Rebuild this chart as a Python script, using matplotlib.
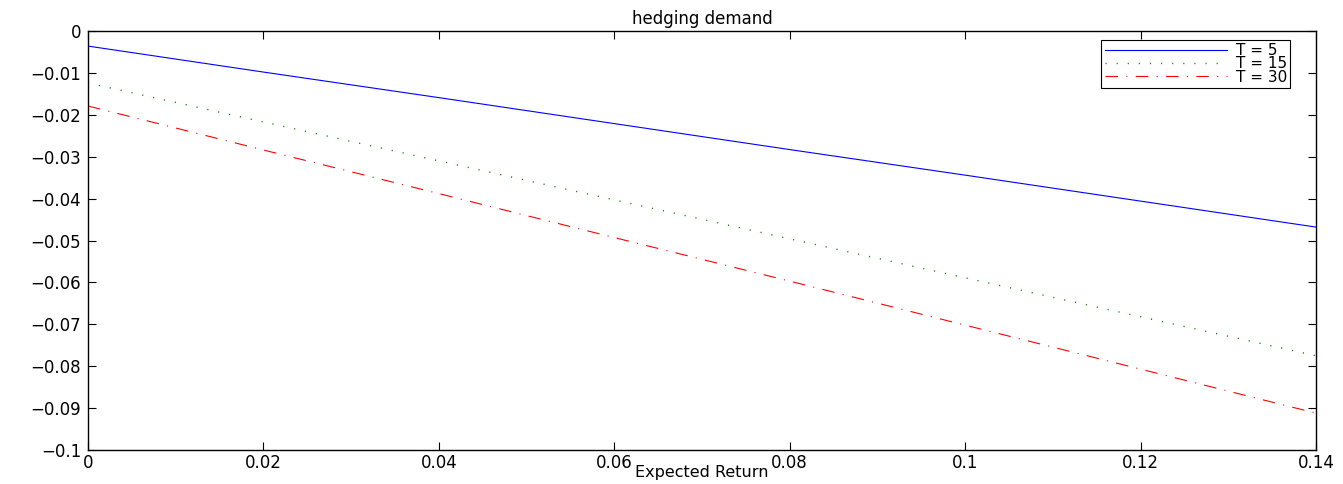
import matplotlib
matplotlib.use("Agg")
import matplotlib.pyplot as plt

plt.rcParams['font.family'] = ['DejaVu Sans']
plt.rcParams['lines.scale_dashes'] = False
plt.rcParams['axes.unicode_minus'] = True

x = [0.0, 0.02, 0.04, 0.06, 0.08, 0.10, 0.12, 0.14]
t5 = [-0.0036, -0.0098, -0.0159, -0.0221, -0.0283, -0.0344, -0.0406, -0.0468]
t15 = [-0.0124, -0.0217, -0.0310, -0.0403, -0.0496, -0.0589, -0.0682, -0.0775]
t30 = [-0.0179, -0.0284, -0.0388, -0.0493, -0.0597, -0.0702, -0.0807, -0.0912]
labels = ["T = 5", "T = 15", "T = 30"]

xticks = [0, 0.02, 0.04, 0.06, 0.08, 0.1, 0.12, 0.14]
xticklabels = ["0", "0.02", "0.04", "0.06", "0.08", "0.1", "0.12", "0.14"]
yticks = [0, -0.01, -0.02, -0.03, -0.04, -0.05, -0.06, -0.07, -0.08, -0.09, -0.1]
yticklabels = ["0", "\u22120.01", "\u22120.02", "\u22120.03", "\u22120.04", "\u22120.05",
               "\u22120.06", "\u22120.07", "\u22120.08", "\u22120.09", "\u22120.1"]

fig = plt.figure(figsize=(13.43, 4.84), dpi=100)
ax = fig.add_axes([88/1343, 1-450/484, (1316-88)/1343, (450-31)/484])

ax.plot(x, t5, color=(0, 0, 1), lw=0.8, label=labels[0])
ax.plot(x, t15, color=(0, 0.5, 0), lw=1.0, linestyle=(0, (0.8, 7.2)), label=labels[1])
ax.plot(x, t30, color=(1, 0, 0), lw=0.8, linestyle=(0, (9, 6, 0.8, 6)), label=labels[2])

ax.set_xlim(0, 0.14)
ax.set_ylim(-0.1, 0)
ax.set_xticks(xticks)
ax.set_xticklabels(xticklabels)
ax.set_yticks(yticks)
ax.set_yticklabels(yticklabels)
ax.tick_params(direction='in', length=6, width=0.8, top=True, right=True, labelsize=12)
ax.tick_params(axis='y', pad=5)
ax.tick_params(axis='x', pad=3)
for s in ax.spines.values():
    s.set_linewidth(1.0)

ax.set_title("hedging demand", fontsize=12, pad=5)
ax.set_xlabel("Expected Return", fontsize=11.5)
ax.xaxis.set_label_coords(0.5, -0.036)

leg = ax.legend(loc='upper right', bbox_to_anchor=(0.979, 0.979), borderaxespad=0,
                fontsize=11, fancybox=False, edgecolor='black', framealpha=1,
                handlelength=8.0, labelspacing=-0.1, borderpad=0.2, handletextpad=0.6)
leg.get_frame().set_linewidth(0.8)

fig.savefig("out.png", dpi=100)
